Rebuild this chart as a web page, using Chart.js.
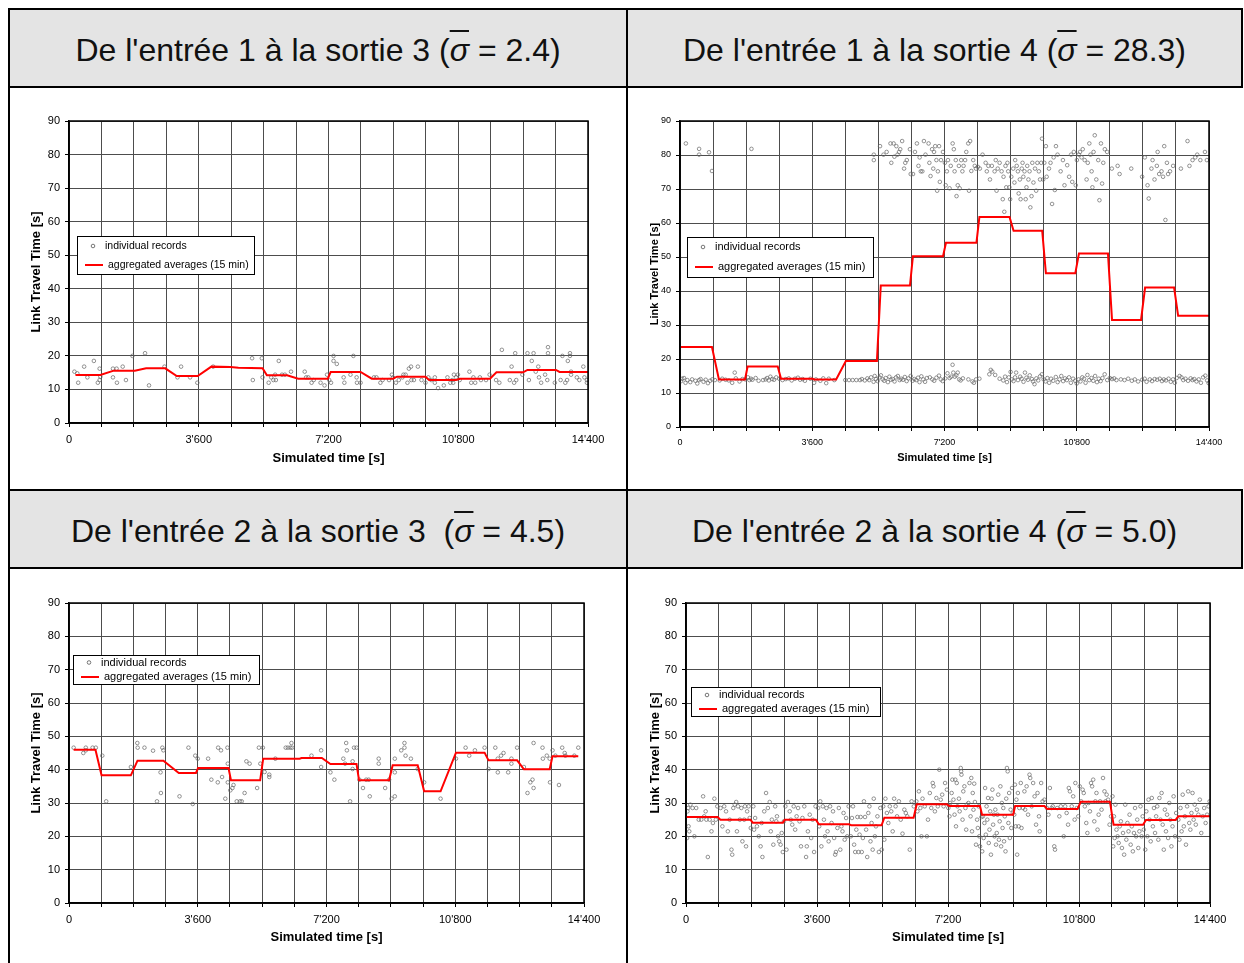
<!DOCTYPE html>
<html lang="fr">
<head>
<meta charset="UTF-8">
<title>Link Travel Time - entrées / sorties</title>
<script src="https://cdn.jsdelivr.net/npm/chart.js"></script>
<style>
    body { margin: 0; background: #fff; font-family: 'Liberation Sans', Arial, sans-serif; }
    #page { position: relative; width: 1244px; height: 963px; overflow: hidden; }
    .rule { position: absolute; background: #000; }
    .head {
        position: absolute; background: #e4e4e4; color: #111;
        display: flex; align-items: center; justify-content: center;
        font-size: 32px; padding-top: 5px; box-sizing: border-box; white-space: pre;
    }
    .sig { font-style: italic; text-decoration: overline; text-decoration-thickness: 1.5px; }
    canvas { position: absolute; }
</style>
</head>
<body>
<div id="page">
    <div class="head" style="left:10px;top:10px;width:616px;height:76px">De l'entrée 1 à la sortie 3 (<span class="sig">σ</span> = 2.4)</div>
    <div class="head" style="left:628px;top:10px;width:613px;height:76px">De l'entrée 1 à la sortie 4 (<span class="sig">σ</span> = 28.3)</div>
    <div class="head" style="left:10px;top:491px;width:616px;height:76px">De l'entrée 2 à la sortie 3  (<span class="sig">σ</span> = 4.5)</div>
    <div class="head" style="left:628px;top:491px;width:613px;height:76px">De l'entrée 2 à la sortie 4 (<span class="sig">σ</span> = 5.0)</div>

    <canvas id="c13" width="616" height="401" style="left:10px;top:88px"></canvas>
    <canvas id="c14" width="612" height="401" style="left:629px;top:88px"></canvas>
    <canvas id="c23" width="616" height="393" style="left:10px;top:570px"></canvas>
    <canvas id="c24" width="612" height="393" style="left:629px;top:570px"></canvas>

    <!-- table rules -->
    <div class="rule" style="left:8px;top:8px;width:1235px;height:2px"></div>
    <div class="rule" style="left:8px;top:86px;width:1235px;height:2px"></div>
    <div class="rule" style="left:8px;top:489px;width:1235px;height:2px"></div>
    <div class="rule" style="left:8px;top:567px;width:1235px;height:2px"></div>
    <div class="rule" style="left:8px;top:8px;width:2px;height:955px"></div>
    <div class="rule" style="left:626px;top:8px;width:2px;height:955px"></div>
    <div class="rule" style="left:1241px;top:8px;width:2px;height:80px"></div>
    <div class="rule" style="left:1241px;top:489px;width:2px;height:80px"></div>
</div>

<script>
// ---- data: [simulated time (s), link travel time (s)] ----

// entrée 1 -> sortie 3
const rec13 = [[150,15.3],[230,14.8],[255,12],[420,16.8],[510,13.6],[690,18.5],[800,12],[850,16.2],[850,12.8],[870,13.8],
    [1220,16.2],[1220,13.6],[1320,16.2],[1330,12],[1490,16.8],[1580,12.8],[1760,20],[2110,20.8],[2220,11.2],[2650,16.8],
    [3010,13.6],[3110,16.8],[3360,13.6],[3560,12],[4000,16.8],[5080,19.3],[5100,12.8],[5350,19.3],[5370,13.6],[5540,12],
    [5610,13.6],[5670,12.8],[5720,14.4],[5740,12.8],[5820,18.5],[5910,14.4],[5990,14.4],[6160,15.3],[6540,15.3],[6580,13.6],
    [6640,13.6],[6730,12],[6790,12.8],[6980,12],[7090,11.2],[7160,14.4],[7220,12.8],[7270,12],[7340,20],[7340,18.5],
    [7430,17.6],[7620,13.6],[7640,12],[7810,14.4],[7890,20],[7980,13.6],[7990,12],[8090,12],[8460,13.6],[8530,13.6],
    [8640,12],[8700,12.8],[8880,12.8],[8960,14.4],[8990,13.6],[9070,12],[9150,12.8],[9250,13.6],[9280,14.4],[9340,14.4],
    [9390,12],[9430,16.2],[9490,16.8],[9500,12.8],[9570,12.8],[9680,16.8],[9780,12.8],[9890,12],[9970,13.6],[10050,12.8],
    [10150,13.6],[10150,12],[10240,10.4],[10400,11.2],[10500,13.6],[10580,12],[10630,12.8],[10660,12],[10680,14.4],[10740,13.6],
    [10790,14.4],[10840,12.8],[11110,15.3],[11160,12],[11220,13.6],[11270,12],[11400,13.6],[11430,12.8],[11570,12.8],[11670,14.4],
    [11850,12.8],[11940,12],[12010,21.8],[12230,12.8],[12280,16.8],[12350,12],[12380,20.8],[12410,12.8],[12580,14.4],[12720,20.8],
    [12760,12.8],[12840,18.5],[12890,20.8],[12950,15.3],[13020,16.8],[13040,13.6],[13100,12],[13210,14.4],[13270,12.8],[13290,22.6],
    [13290,20.8],[13480,12],[13640,12.8],[13690,20],[13770,12],[13820,12.8],[13840,18.5],[13900,20.8],[13900,20],[13930,15.3],
    [13930,14.4],[14090,13.6],[14160,12.8],[14270,16.8],[14300,13.6],[14370,12.8],[14370,12]];
const avg13T = [180,870,1240,1825,2140,2670,2990,3570,3950,4480,4700,5370,5490,6050,6360,7180,7260,8090,8400,8990,9100,9890,9990,10740,10850,11680,11860,12600,12720,13510,13610,14400];
const avg13V = [14.3,14.3,15.6,15.6,16.3,16.3,14.0,14.0,16.8,16.7,16.5,16.3,14.2,14.2,13.2,13.2,15.2,15.2,13.2,13.2,13.8,13.8,12.8,12.8,13.2,13.2,15.1,15.1,15.8,15.8,15.2,15.2];

// entrée 1 -> sortie 4 (congested records)
const rec14High = [[160,83.4],[520,81.8],[520,80.1],[790,80.8],[870,75.3],[1945,81.8],
    [5276,80.1],[5276,78.5],[5445,82.6],[5540,80.1],[5625,80.9],[5730,83.4],[5752,77.7],[5815,83.4],[5836,79.5],[5889,82.6],
    [5921,80.1],[5963,80.9],[5995,81.7],[6047,84.1],[6100,76.0],[6132,77.7],[6174,78.5],[6259,81.7],[6280,74.4],[6343,74.4],
    [6396,80.9],[6449,83.4],[6491,76.8],[6523,79.3],[6555,75.2],[6597,75.2],[6640,84.1],[6682,80.1],[6767,83.4],[6788,77.7],
    [6820,73.8],[6862,81.7],[6894,76.0],[6915,80.9],[6947,82.6],[6979,78.5],[7000,69.5],[7020,75.2],[7052,82.6],[7073,72.1],
    [7105,78.5],[7158,80.9],[7210,77.7],[7232,71.1],[7264,75.2],[7295,78.5],[7338,70.2],[7370,76.8],[7422,83.4],[7454,81.7],
    [7475,75.2],[7507,78.5],[7528,67.9],[7560,71.1],[7592,76.8],[7613,70.2],[7655,78.5],[7687,75.2],[7719,76.8],[7761,78.5],
    [7793,80.9],[7846,83.4],[7867,69.5],[7898,84.1],[7930,75.3],[7982,78.5],[8024,76.8],[8056,76.0],[8109,76.5],[8162,76.0],
    [8236,80.1],[8320,77.7],[8352,75.2],[8394,76.8],[8437,72.8],[8489,76.8],[8564,75.2],[8595,78.5],[8617,69.5],[8649,76.0],
    [8701,77.7],[8754,75.2],[8786,67.0],[8807,73.6],[8828,63.3],[8860,76.8],[8881,70.5],[8913,77.7],[8934,75.2],[8966,70.5],
    [8987,67.0],[9018,73.6],[9071,76.0],[9103,71.9],[9124,78.5],[9166,76.8],[9198,75.2],[9219,68.7],[9251,72.8],[9272,67.0],
    [9304,76.0],[9325,77.7],[9346,73.6],[9378,75.2],[9410,67.0],[9431,70.5],[9452,76.8],[9484,72.8],[9515,75.2],[9537,64.6],
    [9569,67.9],[9590,77.7],[9621,71.9],[9664,76.0],[9695,69.5],[9727,77.7],[9769,75.2],[9801,72.8],[9833,77.7],[9854,84.8],
    [9886,72.8],[9917,77.7],[9960,82.6],[9981,73.6],[10044,76.0],[10086,77.7],[10128,65.6],[10171,79.3],[10203,69.7],[10234,82.6],
    [10277,80.1],[10361,75.2],[10424,78.5],[10466,71.1],[10540,77.0],[10593,73.6],[10646,80.1],[10677,72.1],[10720,80.9],[10773,71.1],
    [10804,78.5],[10857,80.1],[10889,80.9],[10931,79.3],[10963,81.7],[11016,78.5],[11068,72.8],[11100,77.7],[11142,83.4],[11174,80.1],
    [11205,75.2],[11226,70.5],[11258,80.9],[11290,85.8],[11332,72.8],[11385,78.5],[11417,66.7],[11459,83.4],[11490,71.6],[11522,77.7],
    [11564,81.7],[11628,80.9],[11755,76.0],[11913,76.8],[11966,74.4],[12283,76.0],[12579,73.6],[12653,79.3],[12727,71.1],[12759,67.2],
    [12833,76.0],[12864,78.5],[12917,72.8],[12980,76.8],[13002,80.9],[13044,74.4],[13107,75.2],[13149,73.6],[13181,82.6],[13213,60.9],
    [13255,77.7],[13286,74.4],[13339,75.2],[13424,76.8],[13635,76.0],[13815,84.1],[13868,76.8],[13952,78.5],[14026,79.3],[14079,80.1],
    [14164,78.5],[14290,80.9],[14342,78.5]];
// entrée 1 -> sortie 4 (free-flow records)
const rec14Low = [[30,13.5],[60,14.2],[110,14.4],[150,13],[200,13.8],[280,13.2],[330,14],[420,13.6],[470,12.8],[520,13.8],
    [560,14.1],[640,13.3],[700,13.9],[760,12.9],[820,13.6],[880,14],[950,13.8],[1080,13.7],[1150,14.2],[1240,13.9],
    [1330,13.7],[1420,13.0],[1490,16.0],[1520,14.3],[1620,13.4],[1700,14.1],[1780,14.0],[1850,14.6],[1890,13.8],[1930,14.2],
    [1970,13.9],[2060,14.4],[2140,13.6],[2260,13.8],[2330,14.0],[2370,14.4],[2420,13.7],[2460,14.8],[2510,14.1],[2560,13.9],
    [2620,14.6],[2700,14.2],[2790,13.8],[2880,14.1],[2960,14.3],[3040,13.7],[3130,14.2],[3210,14.5],[3270,13.9],[3340,14.1],
    [3400,13.6],[3550,14.2],[3650,13.0],[3700,14.0],[3820,13.6],[3900,14.3],[3980,12.9],[4050,14.2],[4200,13.8],[4500,13.8],
    [4600,13.8],[4700,13.8],[4800,13.8],[4900,13.8],[4950,14.1],[5030,13.7],[5100,14.3],[5150,13.8],[5200,14.6],[5270,13.3],
    [5300,15.0],[5330,14.1],[5380,13.5],[5430,14.6],[5470,15.2],[5520,14.0],[5560,13.6],[5600,14.4],[5660,13.2],[5700,14.8],
    [5740,13.9],[5790,14.1],[5840,13.4],[5880,14.6],[5930,15.0],[5980,13.8],[6020,14.2],[6070,13.9],[6120,14.7],[6170,13.5],
    [6220,14.3],[6280,15.0],[6330,13.6],[6380,14.1],[6430,13.8],[6480,14.5],[6520,13.2],[6570,14.9],[6620,14.0],[6670,13.3],
    [6720,14.4],[6800,14.6],[6870,14.0],[6920,13.6],[6980,14.5],[7050,15.1],[7100,14.0],[7150,13.5],[7220,14.3],[7280,15.8],
    [7340,14.4],[7380,14.8],[7420,18.3],[7440,16.0],[7480,14.8],[7520,15.2],[7560,16.0],[7600,14.0],[7640,13.7],[7700,14.3],
    [7850,14.0],[7960,13.4],[8000,13.0],[8060,14.0],[8150,14.2],[8420,15.5],[8460,16.8],[8500,16.3],[8580,15.3],[8700,14.2],
    [8800,13.7],[8850,14.8],[8900,13.2],[8950,14.6],[9000,16.2],[9030,14.0],[9080,13.5],[9120,14.6],[9150,16.0],[9200,13.8],
    [9260,14.8],[9300,14.2],[9350,13.3],[9390,16.0],[9430,14.5],[9470,13.9],[9520,15.2],[9580,14.1],[9610,13.4],[9650,12.6],
    [9700,14.3],[9750,13.7],[9800,14.9],[9850,15.5],[9900,14.0],[9950,13.4],[10000,14.4],[10050,13.0],[10100,14.2],[10160,13.6],
    [10230,14.7],[10280,13.2],[10330,14.0],[10380,15.0],[10430,13.5],[10480,14.3],[10530,13.8],[10590,14.6],[10640,13.0],[10700,14.2],
    [10760,13.6],[10800,12.8],[10850,14.0],[10900,13.4],[10950,14.6],[11000,14.2],[11040,13.0],[11090,15.3],[11140,13.8],[11200,14.4],
    [11250,13.6],[11300,15.0],[11350,13.2],[11400,14.2],[11450,13.5],[11500,14.4],[11560,15.5],[11630,13.8],[11700,14.4],[11760,14.1],
    [11820,14.3],[11880,13.8],[12000,14.0],[12100,13.8],[12200,14.2],[12300,13.6],[12380,14.0],[12470,13.4],[12580,13.9],[12650,14.2],
    [12700,13.3],[12790,14.0],[12850,13.5],[12920,14.1],[12990,13.9],[13060,14.2],[13120,13.5],[13170,14.0],[13230,13.7],[13300,14.2],
    [13360,13.3],[13420,14.0],[13470,13.0],[13520,14.4],[13600,15.0],[13650,14.6],[13700,13.8],[13760,14.2],[13830,13.6],[13900,14.3],
    [13950,13.8],[14000,14.1],[14060,13.4],[14120,14.0],[14180,13.0],[14240,14.6],[14300,15.1],[14350,13.7],[14390,12.9]];
const avg14T = [20,870,1060,1770,1840,2660,2750,3615,3650,4250,4515,5360,5465,6260,6340,7160,7240,8070,8150,8970,9080,9860,9960,10760,10860,11650,11760,12550,12660,13450,13560,14400];
const avg14V = [23.5,23.5,14.0,14.0,17.8,17.8,14.2,14.2,14.0,14.0,19.4,19.4,41.6,41.6,50.2,50.2,54.2,54.2,61.8,61.8,57.7,57.7,45.2,45.2,51.0,51.0,31.5,31.5,41.0,41.0,32.7,32.7];

// entrée 2 -> sortie 3
const rec23 = [[130,46.6],[400,45],[470,46.6],[470,45.8],[660,46.6],[750,46.6],[930,44.2],[1040,30.5],[1730,40.8],[1910,48],
    [1920,46.6],[2110,46.6],[2350,45.7],[2460,30.5],[2560,39.2],[2570,33],[2610,46.6],[2640,45.8],[3090,32],[3340,46.6],
    [3460,29.7],[3530,44.2],[3600,43.3],[3890,43.3],[3980,37],[4160,36.2],[4170,46.6],[4250,45.8],[4280,37.8],[4370,31.3],
    [4430,46.6],[4440,41.8],[4440,36.2],[4510,33.8],[4570,34.5],[4600,35.4],[4690,30.5],[4780,30.5],[4830,30.5],[4910,33],
    [4960,42.5],[5050,41.8],[5260,34.5],[5310,46.6],[5350,41.8],[5420,46.6],[5470,39.3],[5600,38.5],[5600,37.8],[5770,43.3],
    [6060,46.6],[6120,46.6],[6190,46.6],[6220,48],[6240,46.6],[6780,44.2],[7050,45.8],[7050,40.8],[7310,39.2],[7420,37],
    [7670,43.3],[7720,41.8],[7750,48],[7770,45.8],[7860,30.5],[7930,40.2],[7930,42.5],[7970,46.6],[8040,46.6],[8120,37],
    [8220,34.5],[8310,37],[8380,37],[8410,32],[8660,43.3],[8660,41.8],[8840,34.5],[8950,37],[9020,31.3],[9110,32],
    [9110,43.3],[9110,39.2],[9290,45.8],[9380,48],[9380,46.6],[9410,44.2],[9560,43.3],[9750,40.2],[9930,36.2],[10390,31.3],
    [10820,43.3],[11090,46.6],[11190,44.2],[11350,45.8],[11620,46.6],[11730,40.2],[11920,46.6],[11990,43.3],[11990,39.2],[12080,44.2],
    [12150,45],[12280,39.2],[12370,43.3],[12370,41.8],[12530,46.6],[12720,40.8],[12820,33],[12900,36.2],[12960,37],[12990,34.5],
    [12990,48],[13240,46.6],[13250,43.3],[13360,44.2],[13440,43.3],[13450,36.2],[13520,45.8],[13600,44.2],[13700,35.4],[13790,46.6],
    [13860,45],[13880,44.2],[14130,44.2],[14240,46.6]];
const avg23T = [130,740,910,1730,1915,2640,3070,3550,3610,4460,4530,5345,5430,6450,6500,7070,7310,8040,8110,8950,9050,9750,9930,10390,10820,11620,11730,12530,12720,13440,13520,14240];
const avg23V = [46.0,46.0,38.3,38.3,42.7,42.7,39.0,39.0,40.5,40.5,36.8,36.8,43.3,43.3,43.5,43.5,41.7,41.7,36.8,36.8,41.3,41.3,33.5,33.5,45.1,45.1,42.8,42.8,40.1,40.1,44.0,44.0];

// entrée 2 -> sortie 4
const rec24 = [[30,19.5],[40,27.5],[60,28.5],[70,23],[90,21.5],[120,29.5],[180,28.5],[230,20],[280,28.5],[350,25],[420,25],[470,32],
    [500,26],[540,27.5],[560,25],[600,13.8],[650,25],[700,21.5],[740,24],[780,31.3],[820,25],[860,29],
    [950,28.5],[1000,23],[1050,29],[1100,27.5],[1150,21.5],[1200,25],[1250,16],[1270,14.5],[1300,28.5],[1340,29.5],[1380,30.3],
    [1400,21.5],[1430,29],[1480,25],[1520,28.5],[1550,18.5],[1600,25],[1620,29],[1650,17],[1680,27.5],[1720,29],[1750,25.5],[1780,22.5],
    [1850,29],[1870,22],[1900,25.5],[1950,23],[2000,20],[2050,17],[2080,24],[2100,13.8],[2150,27.5],[2200,33],[2250,28.5],[2300,30.3],
    [2330,21.5],[2360,25],[2400,17.5],[2450,29],[2480,24.5],[2500,26],[2530,20],[2560,18.5],[2600,17.5],[2630,21],[2660,15.3],[2690,24.5],
    [2730,29],[2760,16],[2800,30.3],[2850,27.5],[2880,25],[2920,23.5],[2960,29],[3000,22],[3040,26],[3080,28.5],[3120,24.5],[3160,17],
    [3200,25.5],[3250,29],[3300,13.8],[3320,17],[3350,21.5],[3400,26.5],[3440,19.5],[3480,25],[3520,15.3],[3560,29],
    [3630,28.5],[3660,23],[3690,30.5],[3720,17],[3760,29],[3790,25],[3820,20],[3860,28.5],[3890,21.5],[3920,18.5],[3960,29],[4000,24],
    [4040,27.5],[4070,19.5],[4100,14.5],[4120,15.3],[4160,22.5],[4200,28.5],[4240,16],[4270,23],[4300,21.5],[4330,27],[4360,19],
    [4400,25.5],[4430,20],[4470,29],
    [4530,20],[4560,25.5],[4590,29],[4620,17.5],[4650,15.3],[4680,22],[4710,25.8],[4740,15.3],[4770,20.5],[4800,25.8],[4830,15.3],
    [4860,19.5],[4890,30.5],[4920,25.8],[4950,22],[4980,13.8],[5010,27],[5040,29],[5070,18.5],[5100,24],[5130,16],[5160,31.3],[5190,20],
    [5220,23],[5260,26],[5300,15.3],[5340,28.5],[5380,16],
    [5420,29],[5450,19],[5480,31.3],[5520,27],[5560,24],[5600,29],[5640,27.5],[5680,21.5],[5720,31.3],[5760,29],[5800,26],[5850,30.5],
    [5900,25],[5950,20.8],[6000,28],[6040,27],[6080,26],[6150,16],[6200,30.5],[6260,29],
    [6330,30.5],[6360,27.5],[6400,33.5],[6440,28.5],[6470,20],[6500,31.3],[6560,29],[6620,20],[6650,25],[6700,33],[6740,28.5],[6780,36],
    [6800,35],[6840,27.5],[6880,31.5],[6920,29],[6960,40],[7000,31],[7040,32.5],[7080,29],[7120,36],[7170,34],
    [7210,28.5],[7240,26],[7260,30],[7300,33],[7320,37],[7350,31],[7380,26.5],[7400,37],[7420,23],[7440,36],[7460,29],[7500,31.3],
    [7520,27.5],[7550,40.5],[7560,39.5],[7570,38.5],[7600,25],[7620,33.5],[7650,35],[7680,28.5],[7700,22],[7720,29.5],[7760,30],[7790,36],
    [7820,26],[7840,37.5],[7860,21.5],[7880,33],[7900,28],[7920,35.8],[7940,30.3],[7970,17.5],[8000,25],[8020,22.5],[8040,29],[8060,20],[8080,17],
    [8120,25.8],[8140,15.5],[8160,26],[8180,19.5],[8200,24],[8220,34.5],[8240,20.5],[8260,29],[8280,25],[8300,31.5],[8320,18],[8340,22],
    [8360,27.5],[8380,14.5],[8400,31.3],[8420,34],[8440,23.5],[8460,26.5],[8480,20],[8500,28],[8520,17.5],[8540,21],[8560,26.5],[8580,32.5],
    [8600,19],[8620,24.5],[8640,35],[8660,17],[8680,30],[8700,22.5],[8720,28.5],[8740,18.5],[8760,26],[8780,15.5],[8800,31.3],[8820,40.5],
    [8840,39.5],[8860,24],[8880,33],[8900,19.5],[8920,28],[8940,22.5],[8960,34.5],[8980,27],
    [9020,26.5],[9040,35.5],[9060,23],[9080,31],[9100,14.5],[9120,33],[9140,23],[9160,28.5],[9200,36],[9220,22.5],[9260,28.5],[9300,33.5],
    [9320,28],[9360,35],[9400,26.5],[9440,38.5],[9460,37.5],[9500,29],[9540,36],[9580,32],[9620,23.5],[9660,33],[9700,26],[9720,21.5],
    [9760,36],[9800,30.5],[9850,31],
    [9920,28.5],[9960,26.5],[10000,34.5],[10050,28.5],[10080,29],[10120,17],[10140,16],[10200,28.5],[10260,26],[10300,29],[10380,20],
    [10420,29],[10460,27],[10500,23.5],[10520,34.5],[10550,33.5],[10600,29],[10640,32],[10680,25],[10700,36],[10740,28.5],[10780,26],
    [10820,35],[10860,30.5],[10900,34],[10930,33],[10960,29],[11000,24],[11030,21],[11060,30],[11100,27.5],[11130,36],[11160,35],[11190,37],
    [11220,24.5],[11250,30.5],[11280,33],[11310,22],[11340,26.5],[11380,30.5],[11420,28],[11460,37.5],[11500,33.5],[11530,30.5],[11560,32.5],
    [11600,31],[11640,23.5],[11680,26],
    [11720,32],[11740,17],[11760,26],[11780,19.5],[11800,29.5],[11830,22],[11860,20],[11890,18],[11920,23],[11950,24.5],[11980,16.5],
    [12010,21],[12040,14.5],[12070,29.5],[12100,19],[12130,24],[12160,21.5],[12190,26.5],[12220,17.5],[12250,23],[12280,15.5],[12310,21],
    [12340,28.5],[12370,20],[12400,25],[12430,16.5],[12460,21.5],[12490,29],[12520,20],[12550,26],[12580,22],
    [12620,16],[12650,27.5],[12680,20],[12710,31],[12740,25],[12770,18.5],[12800,31.5],[12830,23],[12860,28.5],[12890,21],[12920,26],
    [12950,29],[12980,19],[13010,31.5],[13040,25],[13070,33],[13100,23.5],[13130,16],[13160,28],[13190,21.5],[13220,26.5],[13250,19.5],
    [13280,30],[13310,25],[13340,17],[13370,23],[13400,32],[13440,20],[13470,27],
    [13530,25],[13560,19],[13590,28.5],[13620,21.5],[13650,32.5],[13680,23],[13710,26],[13740,17.5],[13770,29],[13800,33.5],[13830,24],
    [13860,22],[13890,27],[13920,33],[13950,25],[13980,29.5],[14010,23.5],[14040,28],[14080,26.5],[14120,31],[14160,21],[14200,26],
    [14240,28.5],[14280,24],[14320,26.5],[14360,29],[14390,30.5]];
const avg24T = [0,870,945,1770,1835,2660,2715,3570,3650,4485,4540,5375,5450,6255,6340,7165,7240,8080,8135,8990,9045,9850,9925,10760,10850,11650,11750,12560,12640,13450,13530,14400];
const avg24V = [25.8,25.8,25.0,25.0,24.1,24.1,25.0,25.0,23.6,23.6,23.3,23.3,25.6,25.6,29.6,29.6,29.1,29.1,26.5,26.5,29.1,29.1,28.2,28.2,30.4,30.4,23.5,23.5,24.9,24.9,26.0,26.0];

// x tick labels: 0, 3'600, 7'200 ...
const xLabelStep = 3600;
function fmtTime(v) {
    if (v % xLabelStep !== 0) return '';
    if (v < 1000) return String(v);
    return Math.floor(v / 1000) + "'" + String(v % 1000).padStart(3, '0');
}

const FONT = "'Liberation Sans', Arial, sans-serif";

// black frame round the plot
const frame = {
    id: 'frame',
    afterDatasetsDraw(chart) {
        const {ctx, chartArea: a} = chart;
        ctx.save();
        ctx.strokeStyle = '#000';
        ctx.lineWidth = 1.5;
        ctx.strokeRect(a.left, a.top, a.right - a.left, a.bottom - a.top);
        ctx.restore();
    }
};

// boxed legend sitting inside the plot
const boxLegend = {
    id: 'boxLegend',
    afterDraw(chart, args, o) {
        const {ctx} = chart;
        const ds = chart.data.datasets;
        ctx.save();
        ctx.fillStyle = '#fff';
        ctx.fillRect(o.x, o.y, o.w, o.h);
        ctx.strokeStyle = '#000';
        ctx.lineWidth = 1;
        ctx.strokeRect(o.x + 0.5, o.y + 0.5, o.w, o.h);
        // row 1: records marker
        ctx.beginPath();
        ctx.arc(o.x + 16, o.y + o.r1, 1.8, 0, Math.PI * 2);
        ctx.lineWidth = 0.8;
        ctx.strokeStyle = '#555';
        ctx.stroke();
        // row 2: red line
        ctx.beginPath();
        ctx.moveTo(o.x + 8, o.y + o.r2);
        ctx.lineTo(o.x + 26, o.y + o.r2);
        ctx.strokeStyle = '#ff0000';
        ctx.lineWidth = 2;
        ctx.stroke();
        ctx.fillStyle = '#000';
        ctx.font = o.size + 'px ' + FONT;
        ctx.textBaseline = 'middle';
        ctx.fillText(ds[0].label, o.x + 28, o.y + o.r1);
        ctx.fillText(ds[1].label, o.x + 31, o.y + o.r2);
        ctx.restore();
    }
};

function drawPanel(id, rec, avgT, avgV, lay) {
    const canvas = document.getElementById(id);
    const W = canvas.width, H = canvas.height;
    const [aL, aT, aR, aB] = lay.area;
    new Chart(canvas, {
        type: 'scatter',
        data: {
            datasets: [{
                label: 'individual records',
                data: rec.map(p => ({x: p[0], y: p[1]})),
                pointRadius: 1.8,
                pointBorderWidth: 0.7,
                borderColor: '#666',
                backgroundColor: 'rgba(255,255,255,0)',
                order: 2
            }, {
                label: 'aggregated averages (15 min)',
                data: avgT.map((t, i) => ({x: t, y: avgV[i]})),
                showLine: true,
                borderColor: '#ff0000',
                borderWidth: 2,
                pointRadius: 0,
                tension: 0,
                order: 1
            }]
        },
        options: {
            responsive: false,
            animation: false,
            layout: {padding: {left: 0, top: aT, right: W - aR, bottom: 0}},
            plugins: {
                legend: {display: false},
                tooltip: {enabled: false},
                boxLegend: lay.legend
            },
            scales: {
                x: {
                    type: 'linear', min: 0, max: 14400,
                    afterFit: s => { s.height = H - aB; },
                    ticks: {stepSize: 900, autoSkip: false, maxRotation: 0, callback: fmtTime,
                            color: '#000', padding: 6, font: {family: FONT, size: lay.tick}},
                    grid: {color: '#4d4d4d', tickColor: '#000', tickLength: 4},
                    border: {color: '#000', width: 1.5},
                    title: {display: true, text: 'Simulated time [s]', color: '#000',
                            font: {family: FONT, size: lay.title, weight: 'bold'},
                            padding: {top: 0, bottom: lay.xTitlePad}}
                },
                y: {
                    min: 0, max: 90,
                    afterFit: s => { s.width = aL; },
                    ticks: {stepSize: 10, color: '#000', padding: 5, font: {family: FONT, size: lay.tick}},
                    grid: {color: '#4d4d4d', tickColor: '#000', tickLength: 4},
                    border: {color: '#000', width: 1.5},
                    title: {display: true, text: 'Link Travel Time [s]', color: '#000',
                            font: {family: FONT, size: lay.title, weight: 'bold'},
                            padding: {top: lay.yTitlePad, bottom: 0}}
                }
            }
        },
        plugins: [frame, boxLegend]
    });
}

drawPanel('c13', rec13, avg13T, avg13V, {
    area: [59, 33, 578, 335], tick: 11, title: 13, xTitlePad: 23, yTitlePad: 19,
    legend: {x: 67, y: 148, w: 177, h: 38, r1: 10, r2: 29, size: 10.5}
});
drawPanel('c14', rec14High.concat(rec14Low), avg14T, avg14V, {
    area: [51, 33, 580, 339], tick: 9, title: 11, xTitlePad: 24, yTitlePad: 19,
    legend: {x: 58, y: 149, w: 186, h: 40, r1: 10, r2: 30, size: 11}
});
drawPanel('c23', rec23, avg23T, avg23V, {
    area: [59, 33, 574, 333], tick: 11, title: 13, xTitlePad: 18, yTitlePad: 19,
    legend: {x: 63, y: 85, w: 186, h: 29, r1: 7.5, r2: 22, size: 11}
});
drawPanel('c24', rec24, avg24T, avg24V, {
    area: [57, 33, 581, 333], tick: 11, title: 13, xTitlePad: 18, yTitlePad: 19,
    legend: {x: 62, y: 117, w: 189, h: 29, r1: 8, r2: 22, size: 11}
});
</script>
</body>
</html>
